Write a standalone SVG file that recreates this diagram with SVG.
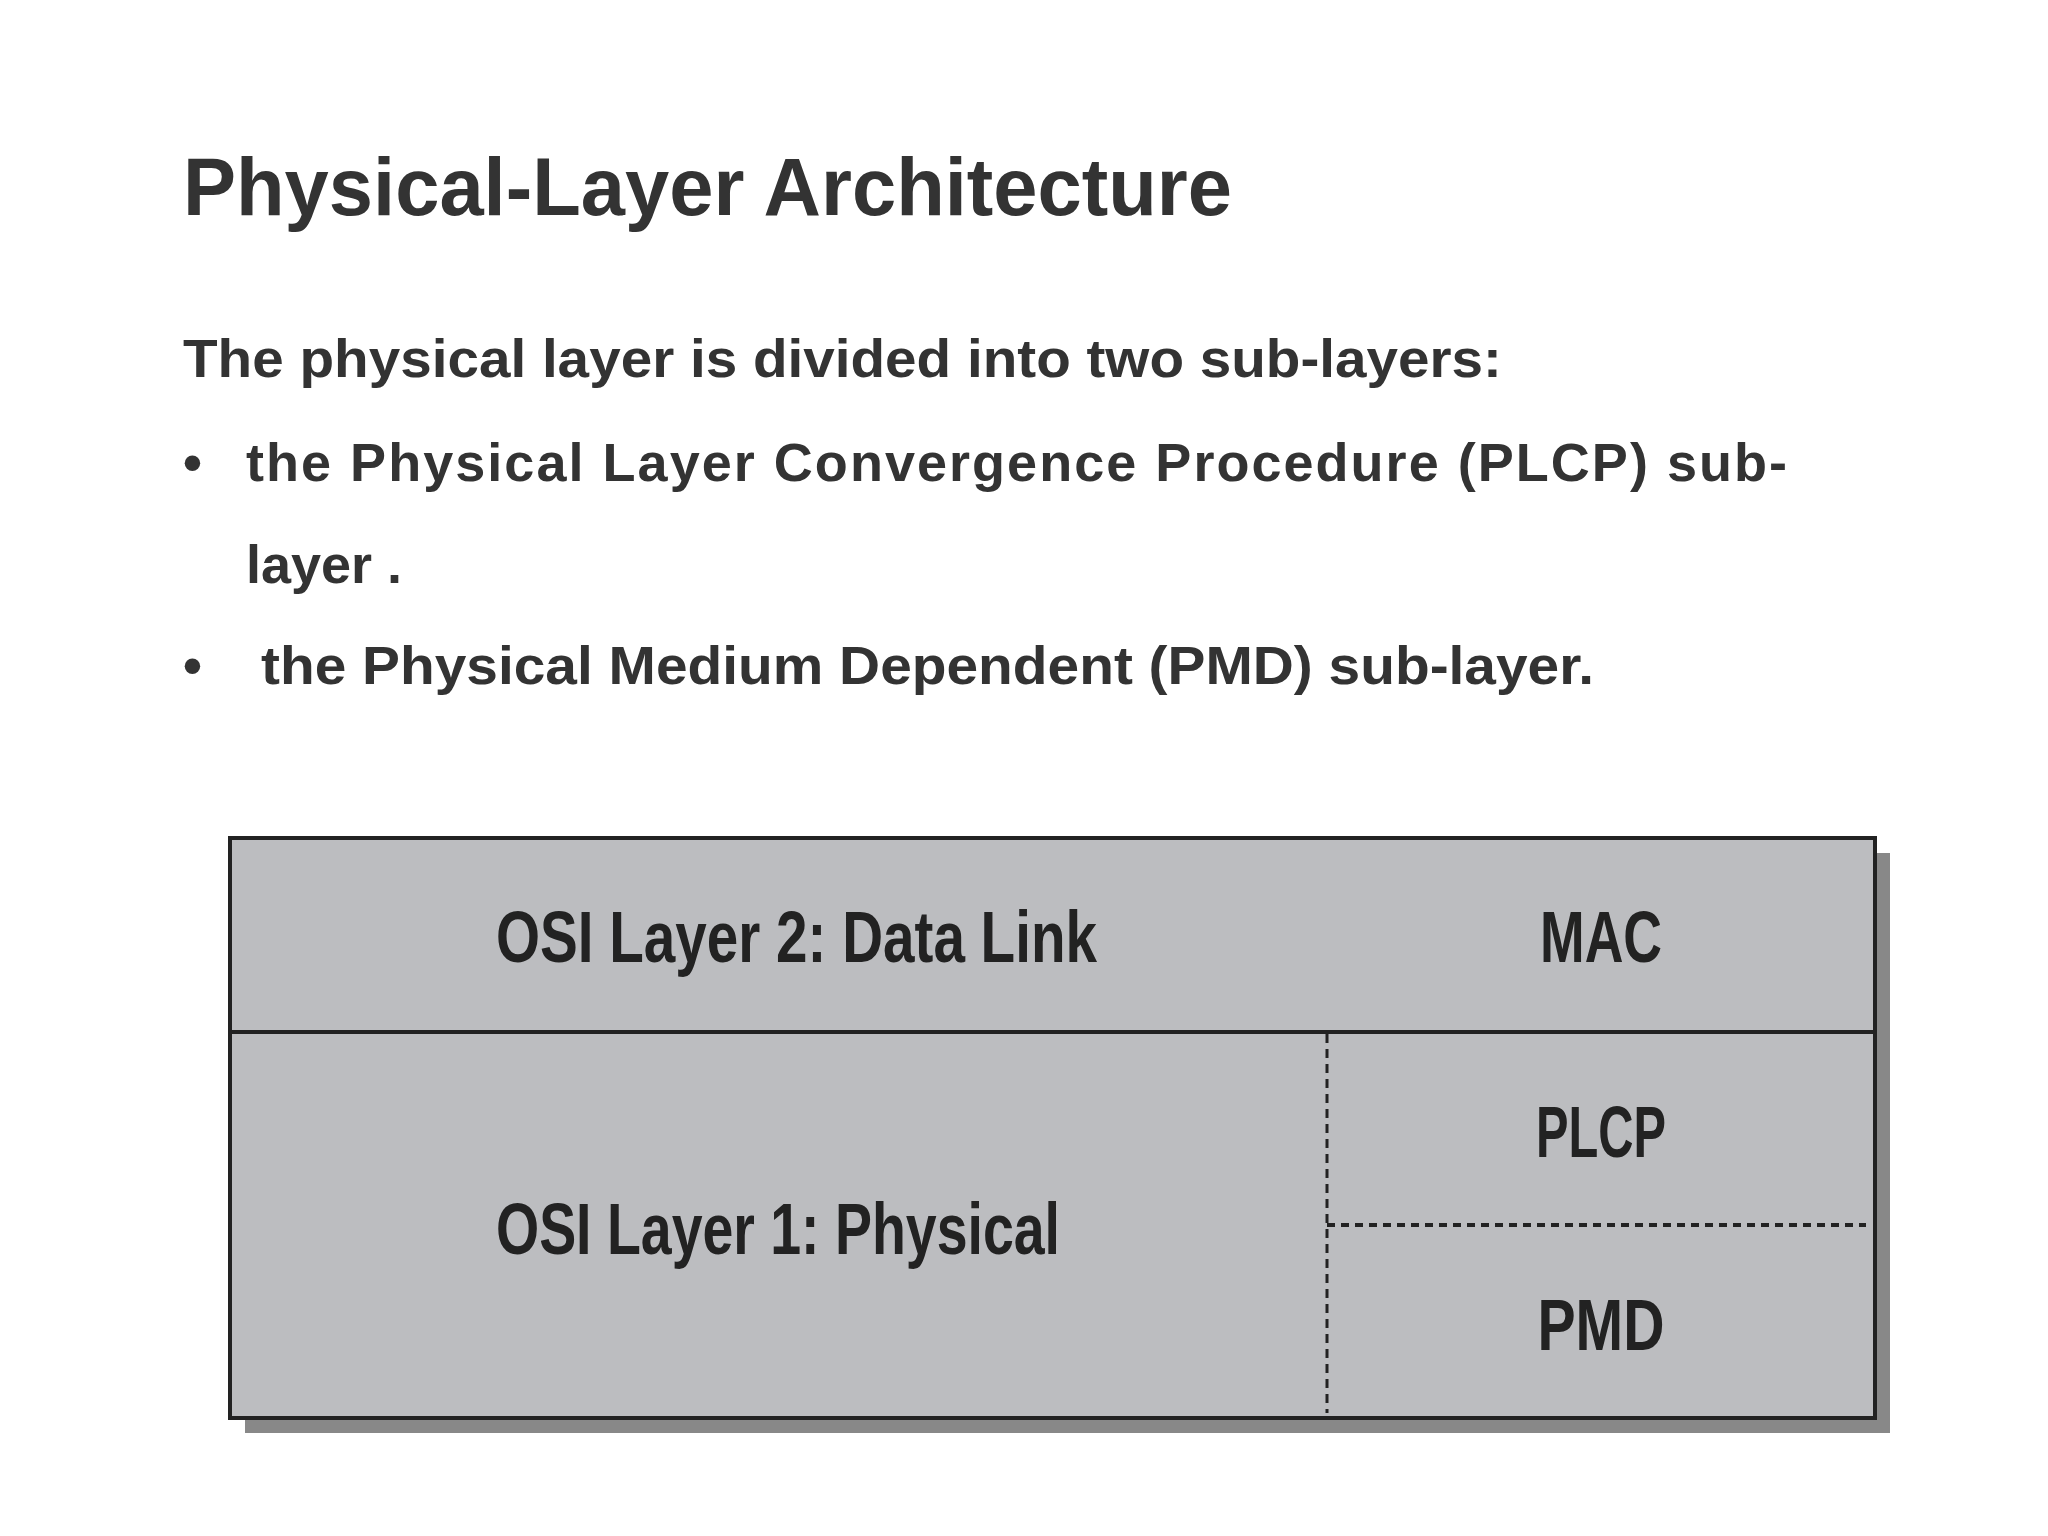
<svg xmlns="http://www.w3.org/2000/svg" width="2048" height="1536" viewBox="0 0 2048 1536">
<style>
.t{font-family:"Liberation Sans",Arial,sans-serif;font-weight:bold;fill:#333}
.b{font-family:"Liberation Sans",Arial,sans-serif;font-weight:bold;fill:#222;font-size:72px}
.ln{stroke:#222;fill:none}
</style>
<rect width="2048" height="1536" fill="#fff"/>
<g id="text">
<text class="t" x="183" y="215" font-size="82" textLength="1049" lengthAdjust="spacingAndGlyphs">Physical-Layer Architecture</text>
<text class="t" x="183" y="377" font-size="54" textLength="1319" lengthAdjust="spacingAndGlyphs">The physical layer is divided into two sub-layers:</text>
<text class="t" x="183" y="481" font-size="54">•</text>
<text class="t" x="246" y="481" font-size="54" textLength="1541" lengthAdjust="spacing">the Physical Layer Convergence Procedure (PLCP) sub-</text>
<text class="t" x="246" y="583" font-size="54">layer .</text>
<text class="t" x="183" y="684" font-size="54">•</text>
<text class="t" x="261" y="684" font-size="54" textLength="1333" lengthAdjust="spacingAndGlyphs">the Physical Medium Dependent (PMD) sub-layer.</text>
</g>
<g id="stack">
<rect x="245" y="853" width="1645" height="580" fill="#888"/>
<rect x="230" y="838" width="1645" height="580" fill="#bcbdc0" stroke="#222" stroke-width="4"/>
</g>
<g id="connectors">
<line class="ln" x1="230" y1="1032" x2="1875" y2="1032" stroke-width="4"/>
<line class="ln" x1="1327" y1="1034" x2="1327" y2="1413" stroke-width="3" stroke-dasharray="9,6"/>
<line class="ln" x1="1327" y1="1225" x2="1866" y2="1225" stroke-width="4" stroke-dasharray="8,6"/>
</g>
<g id="l2"><text class="b" x="496" y="962" textLength="601" lengthAdjust="spacingAndGlyphs">OSI Layer 2: Data Link</text></g>
<g id="mac"><text class="b" x="1601" y="962" text-anchor="middle" textLength="122" lengthAdjust="spacingAndGlyphs">MAC</text></g>
<g id="l1"><text class="b" x="496" y="1254" textLength="564" lengthAdjust="spacingAndGlyphs">OSI Layer 1: Physical</text></g>
<g id="plcp"><text class="b" x="1601" y="1157" text-anchor="middle" textLength="130" lengthAdjust="spacingAndGlyphs">PLCP</text></g>
<g id="pmd"><text class="b" x="1601" y="1350" text-anchor="middle" textLength="127" lengthAdjust="spacingAndGlyphs">PMD</text></g>
</svg>
